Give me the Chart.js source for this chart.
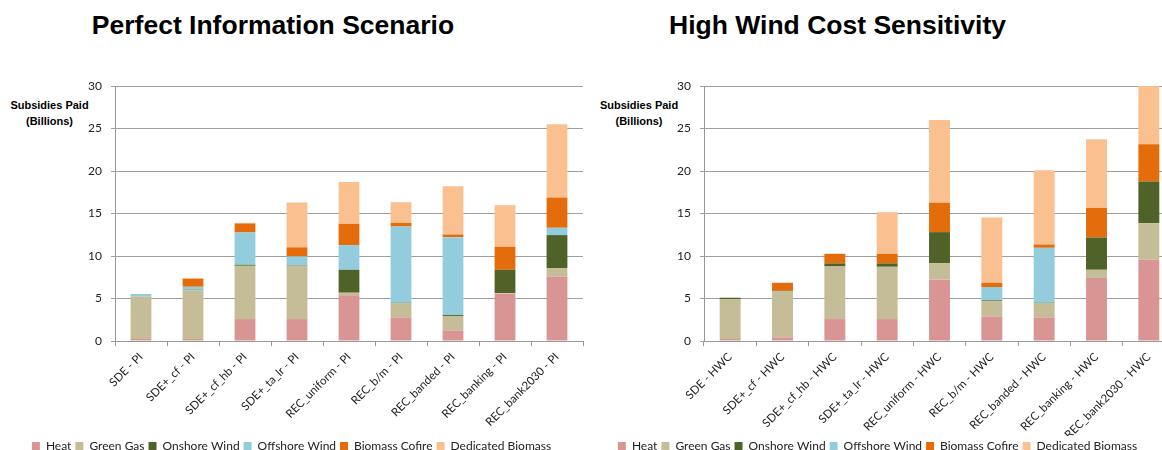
<!DOCTYPE html>
<html>
<head>
<meta charset="utf-8">
<title>Subsidies Paid</title>
<script src="https://cdn.jsdelivr.net/npm/chart.js@4.4.1/dist/chart.umd.min.js"></script>
<style>
  html, body { margin: 0; padding: 0; width: 1162px; height: 450px; overflow: hidden; background: #fff; }
  .panel-title { position: absolute; top: 10px; font: bold 26.5px "Liberation Sans", Arial, sans-serif; line-height: 30px; text-align: center; color: #000; white-space: nowrap; }
  .axis-title { position: absolute; top: 97px; font: bold 11px "Liberation Sans", Arial, sans-serif; line-height: 16px; text-align: center; color: #000; }
  canvas { position: absolute; top: 0; }
</style>
</head>
<body>
<div class="panel-title" style="left:0;width:546px;">Perfect Information Scenario</div>
<div class="panel-title" style="left:580px;width:515px;">High Wind Cost Sensitivity</div>
<div class="axis-title" style="left:0;width:99px;">Subsidies Paid<br>(Billions)</div>
<div class="axis-title" style="left:590px;width:98px;">Subsidies Paid<br>(Billions)</div>
<canvas id="chartPI" width="600" height="462" style="left:0;"></canvas>
<canvas id="chartHWC" width="600" height="462" style="left:580px;"></canvas>
<script>
// ====== DATA ======
const categoriesPI = ['SDE - PI', 'SDE+_cf - PI', 'SDE+_cf_hb - PI', 'SDE+_ta_lr - PI', 'REC_uniform - PI',
  'REC_b/m - PI', 'REC_banded - PI', 'REC_banking - PI', 'REC_bank2030 - PI'];
const categoriesHWC = ['SDE - HWC', 'SDE+_cf - HWC', 'SDE+_cf_hb - HWC', 'SDE+_ta_lr - HWC', 'REC_uniform - HWC',
  'REC_b/m - HWC', 'REC_banded - HWC', 'REC_banking - HWC', 'REC_bank2030 - HWC'];

const seriesNames = ['Heat', 'Green Gas', 'Onshore Wind', 'Offshore Wind', 'Biomass Cofire', 'Dedicated Biomass'];
const seriesColors = ['#D99594', '#C4BD97', '#4F6228', '#93CDDD', '#E46C0A', '#FAC090'];

// Perfect information (billions)
const heatPI      = [0.23, 0.23, 2.58, 2.58, 5.37, 2.78, 1.25, 5.60, 7.56];
const greenGasPI  = [5.00, 5.75, 6.27, 6.27, 0.31, 1.65, 1.69, 0.05, 1.02];
const onshorePI   = [0.00, 0.05, 0.12, 0.05, 2.70, 0.07, 0.11, 2.73, 3.88];
const offshorePI  = [0.30, 0.35, 3.80, 1.05, 2.90, 8.97, 9.17, 0.00, 0.86];
const cofirePI    = [0.00, 0.97, 1.06, 1.07, 2.51, 0.43, 0.31, 2.70, 3.56];
const dedicatedPI = [0.00, 0.00, 0.07, 5.28, 4.93, 2.43, 5.68, 4.90, 8.62];

// High wind cost (billions)
const heatHWC      = [0.23, 0.43, 2.58, 2.58, 7.25, 2.90, 2.78, 7.40, 9.56];
const greenGasHWC  = [4.67, 5.41, 6.19, 6.15, 1.92, 1.80, 1.69, 0.98, 4.31];
const onshoreHWC   = [0.19, 0.07, 0.36, 0.40, 3.64, 0.08, 0.03, 3.80, 4.89];
const offshoreHWC  = [0.00, 0.00, 0.00, 0.00, 0.00, 1.57, 6.46, 0.00, 0.00];
const cofireHWC    = [0.00, 0.94, 1.13, 1.13, 3.44, 0.50, 0.39, 3.49, 4.39];
const dedicatedHWC = [0.00, 0.00, 0.00, 4.90, 9.75, 7.68, 8.73, 8.07, 7.00];

const yTicks = [0, 5, 10, 15, 20, 25, 30];

// ====== CHART ======
const labelFont = 'Lato, "Open Sans", sans-serif';

function makeChart(id, labels, values, yWidth, padRight) {
  const ctx = document.getElementById(id).getContext('2d');
  return new Chart(ctx, {
    type: 'bar',
    data: {
      labels: labels,
      datasets: values.map((data, i) => ({
        label: seriesNames[i],
        data: data,
        backgroundColor: seriesColors[i],
        borderWidth: 0,
        barPercentage: 0.4,
        categoryPercentage: 1
      }))
    },
    options: {
      responsive: false,
      animation: false,
      devicePixelRatio: 1,
      layout: { padding: { top: 86, right: padRight, bottom: 0, left: 0 } },
      plugins: {
        title: { display: false },
        tooltip: { enabled: false },
        legend: {
          position: 'bottom',
          labels: {
            boxWidth: 8,
            boxHeight: 8,
            padding: 4,
            color: '#222',
            font: { family: labelFont, size: 12 }
          }
        }
      },
      scales: {
        x: {
          stacked: true,
          afterFit: s => { s.height = 95; },
          border: { color: '#999', width: 1 },
          grid: { drawOnChartArea: false, drawTicks: true, tickLength: 5, color: '#999' },
          ticks: {
            autoSkip: false,
            minRotation: 45,
            maxRotation: 45,
            padding: 4,
            color: '#222',
            font: { family: labelFont, size: 11.5 }
          }
        },
        y: {
          stacked: true,
          min: yTicks[0],
          max: yTicks[yTicks.length - 1],
          afterFit: s => { s.width = yWidth; },
          afterBuildTicks: s => { s.ticks = yTicks.map(v => ({ value: v })); },
          border: { color: '#999', width: 1 },
          grid: { color: '#a0a0a0', tickLength: 4 },
          ticks: {
            padding: 9,
            color: '#222',
            font: { family: labelFont, size: 12 }
          }
        }
      }
    }
  });
}

makeChart('chartPI', categoriesPI,
  [heatPI, greenGasPI, onshorePI, offshorePI, cofirePI, dedicatedPI], 115, 17);
makeChart('chartHWC', categoriesHWC,
  [heatHWC, greenGasHWC, onshoreHWC, offshoreHWC, cofireHWC, dedicatedHWC], 124, 5);
</script>
</body>
</html>
